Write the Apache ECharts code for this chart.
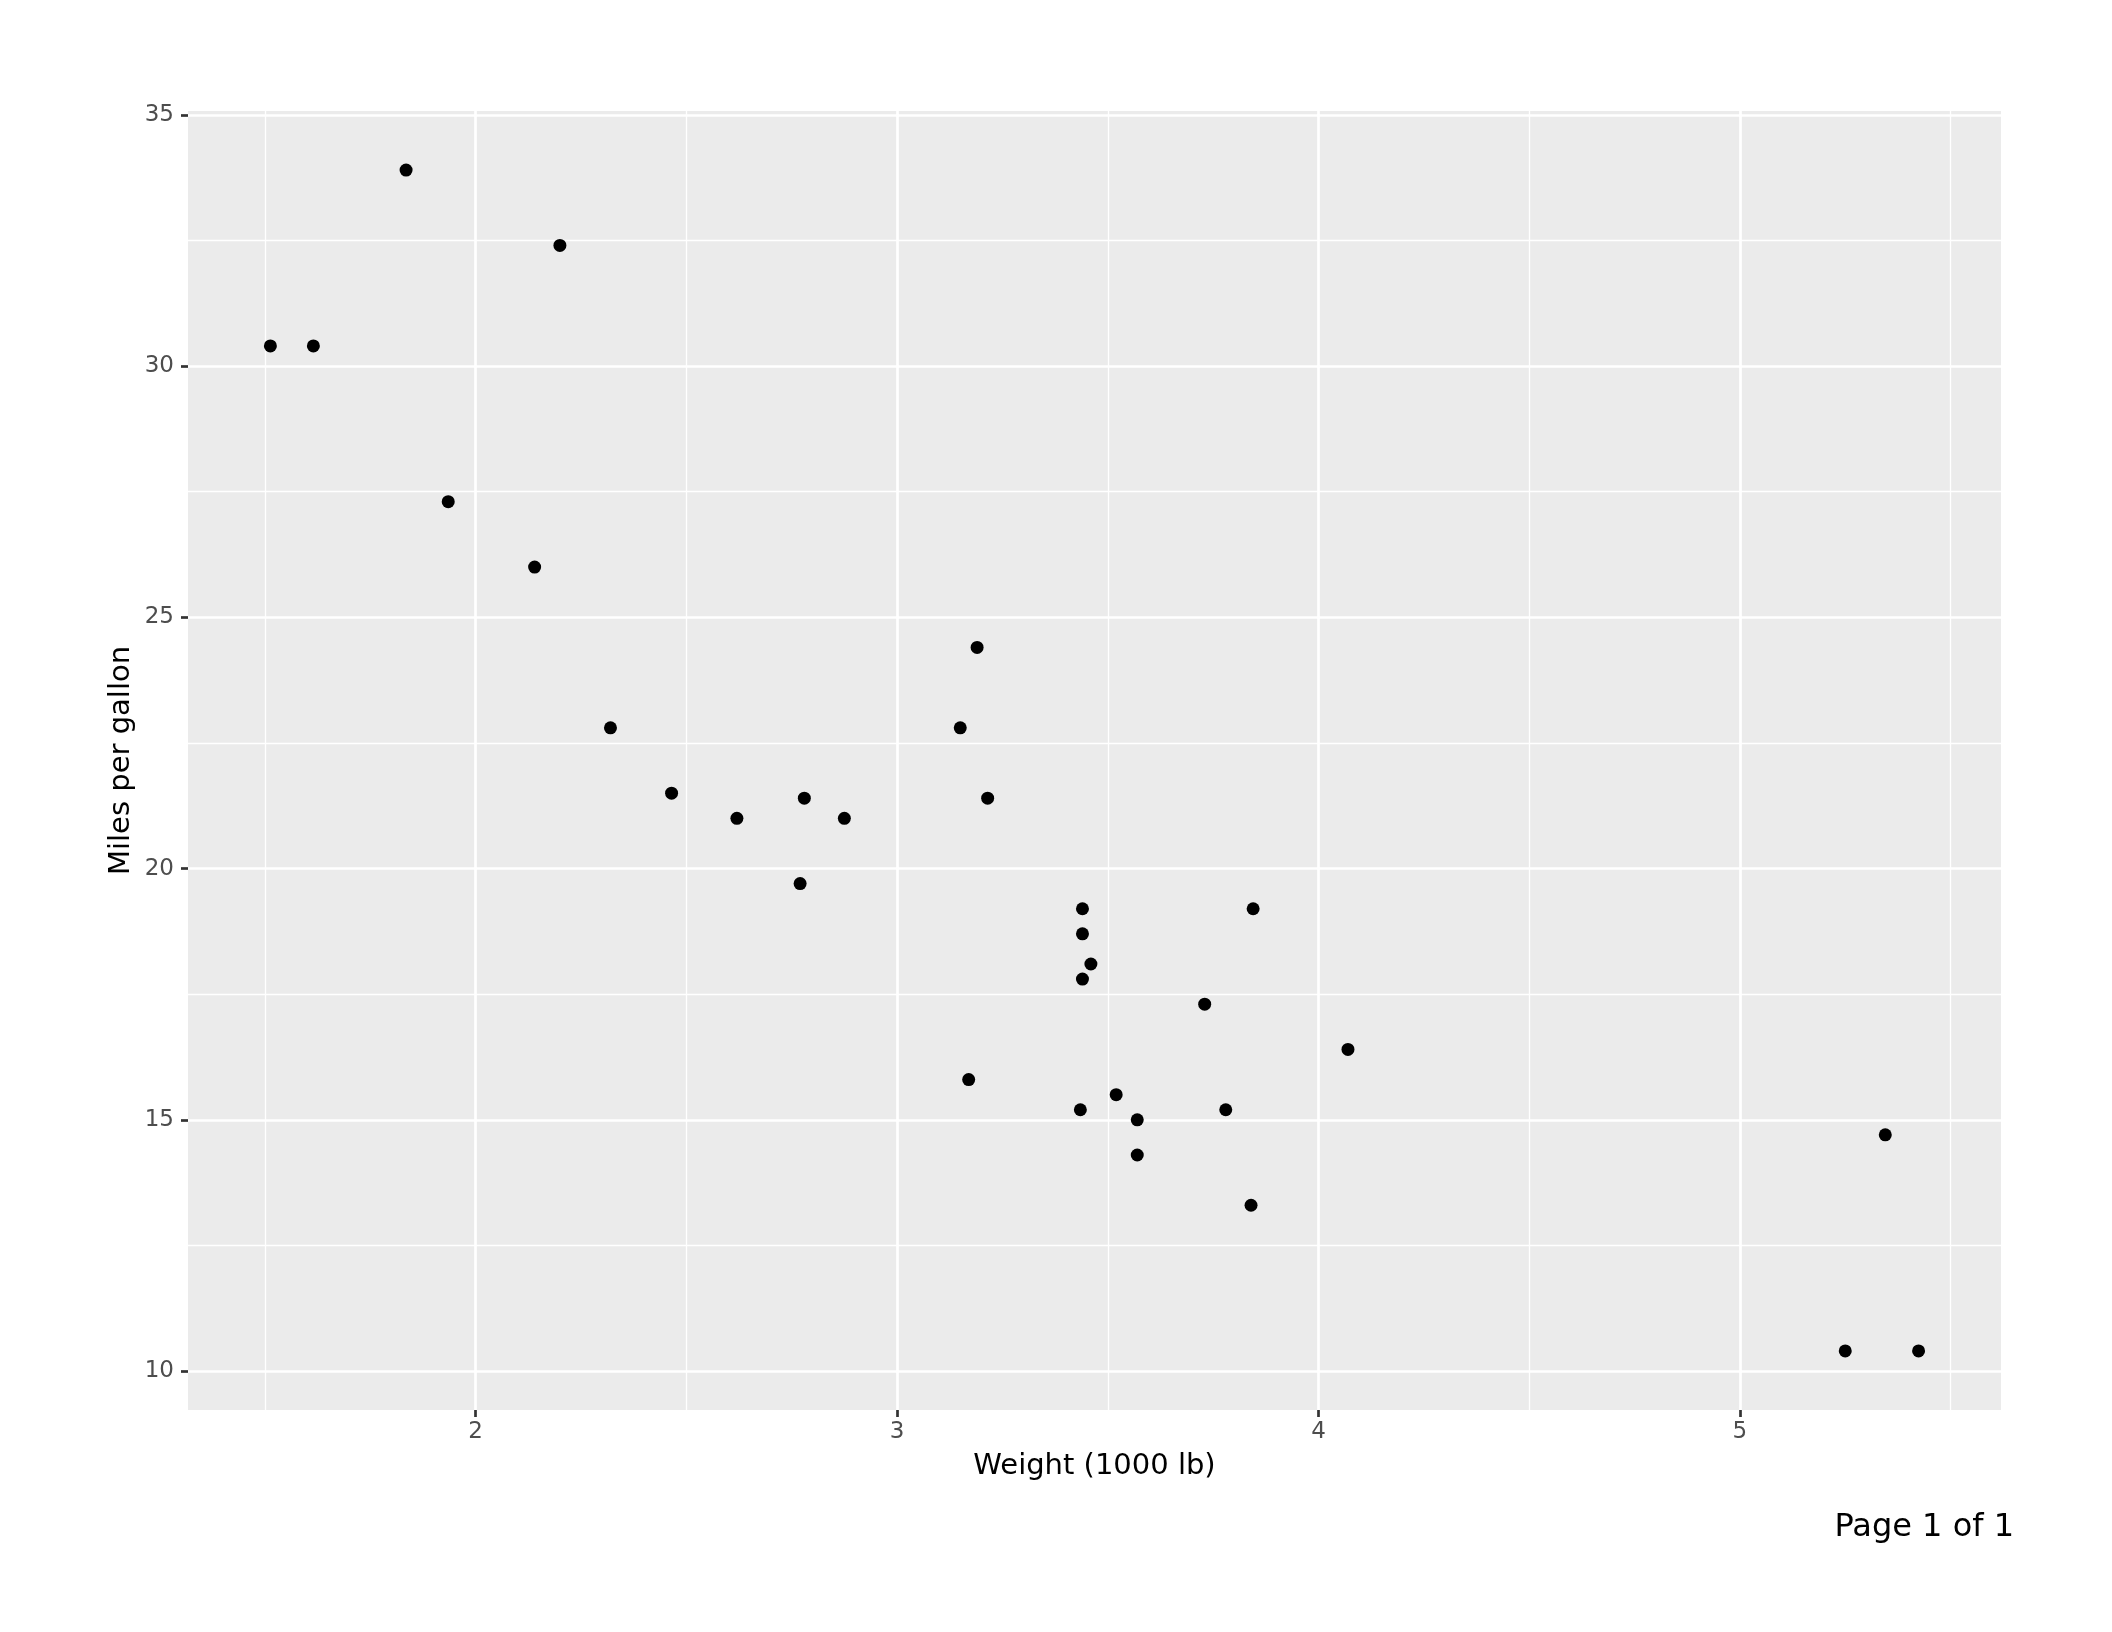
<!DOCTYPE html>
<html><head><meta charset="utf-8">
<script src="https://cdn.jsdelivr.net/npm/echarts@6/dist/echarts.min.js"></script>
<style>html,body{margin:0;padding:0;background:#fff}#c{width:2112px;height:1632px}</style>
</head><body><div id="c"></div>
<script>
// mtcars: weight (1000 lb) and miles per gallon
const weight = [2.620, 2.875, 2.320, 3.215, 3.440, 3.460, 3.570, 3.190, 3.150, 3.440, 3.440,
  4.070, 3.730, 3.780, 5.250, 5.424, 5.345, 2.200, 1.615, 1.835, 2.465, 3.520, 3.435, 3.840,
  3.845, 1.935, 2.140, 1.513, 3.170, 2.770, 3.570, 2.780];
const mpg = [21.0, 21.0, 22.8, 21.4, 18.7, 18.1, 14.3, 24.4, 22.8, 19.2, 17.8,
  16.4, 17.3, 15.2, 10.4, 10.4, 14.7, 32.4, 30.4, 33.9, 21.5, 15.5, 15.2, 13.3,
  19.2, 27.3, 26.0, 30.4, 15.8, 19.7, 15.0, 21.4];
const xTicks = [2, 3, 4, 5];
const yTicks = [10, 15, 20, 25, 30, 35];
const xMinor = [1.5, 2.5, 3.5, 4.5, 5.5];
const yMinor = [12.5, 17.5, 22.5, 27.5, 32.5];
const xTitle = 'Weight (1000 lb)';
const yTitle = 'Miles per gallon';
const pageLabel = 'Page 1 of 1';

const xMin = 1.3175, xMax = 5.6196;
const yMin = 9.225, yMax = 35.075;

const points = weight.map((w, i) => [w, mpg[i]]);
const FONT = 'DejaVu Sans';

const chart = echarts.init(document.getElementById('c'), null, {renderer: 'canvas'});
chart.setOption({
  animation: false,
  backgroundColor: '#ffffff',
  grid: {left: 188, right: 111, top: 111, bottom: 222, show: true,
         backgroundColor: '#EBEBEB', borderWidth: 0, containLabel: false},
  xAxis: [
    {type: 'value', min: xMin, max: xMax, position: 'bottom',
     axisLine: {show: false},
     axisTick: {show: true, length: 7, customValues: xTicks, lineStyle: {color: '#333333', width: 2.7}},
     axisLabel: {customValues: xTicks, color: '#4D4D4D', fontSize: 23, fontFamily: FONT, margin: 11,
                 formatter: v => String(v)},
     splitLine: {show: true, lineStyle: {color: '#ffffff', width: 2.7}}},
    {type: 'value', min: xMin, max: xMax, position: 'top',
     axisLine: {show: false},
     axisTick: {show: false, customValues: xMinor},
     axisLabel: {show: false, customValues: xMinor},
     splitLine: {show: true, lineStyle: {color: '#ffffff', width: 1.35}}}
  ],
  yAxis: [
    {type: 'value', min: yMin, max: yMax, position: 'left',
     axisLine: {show: false},
     axisTick: {show: true, length: 7, customValues: yTicks, lineStyle: {color: '#333333', width: 2.7}},
     axisLabel: {customValues: yTicks, color: '#4D4D4D', fontSize: 23, fontFamily: FONT, margin: 14,
                 formatter: v => String(v)},
     splitLine: {show: true, lineStyle: {color: '#ffffff', width: 2.7}}},
    {type: 'value', min: yMin, max: yMax, position: 'right',
     axisLine: {show: false},
     axisTick: {show: false, customValues: yMinor},
     axisLabel: {show: false, customValues: yMinor},
     splitLine: {show: true, lineStyle: {color: '#ffffff', width: 1.35}}}
  ],
  series: [{
    type: 'scatter', xAxisIndex: 0, yAxisIndex: 0, data: points,
    symbol: 'circle', symbolSize: 13, itemStyle: {color: '#000000', opacity: 1}, z: 5
  }],
  graphic: [
    {type: 'text', x: 1094.5, y: 1466, style: {text: xTitle, font: '29px "DejaVu Sans"',
      fill: '#000', textAlign: 'center', textVerticalAlign: 'middle'}},
    {type: 'text', x: 121.5, y: 760.5, rotation: Math.PI / 2, style: {text: yTitle, font: '29px "DejaVu Sans"',
      fill: '#000', textAlign: 'center', textVerticalAlign: 'middle'}},
    {type: 'text', x: 2014, y: 1528, style: {text: pageLabel, font: '32px "DejaVu Sans"',
      fill: '#000', textAlign: 'right', textVerticalAlign: 'middle'}}
  ]
});
</script></body></html>
